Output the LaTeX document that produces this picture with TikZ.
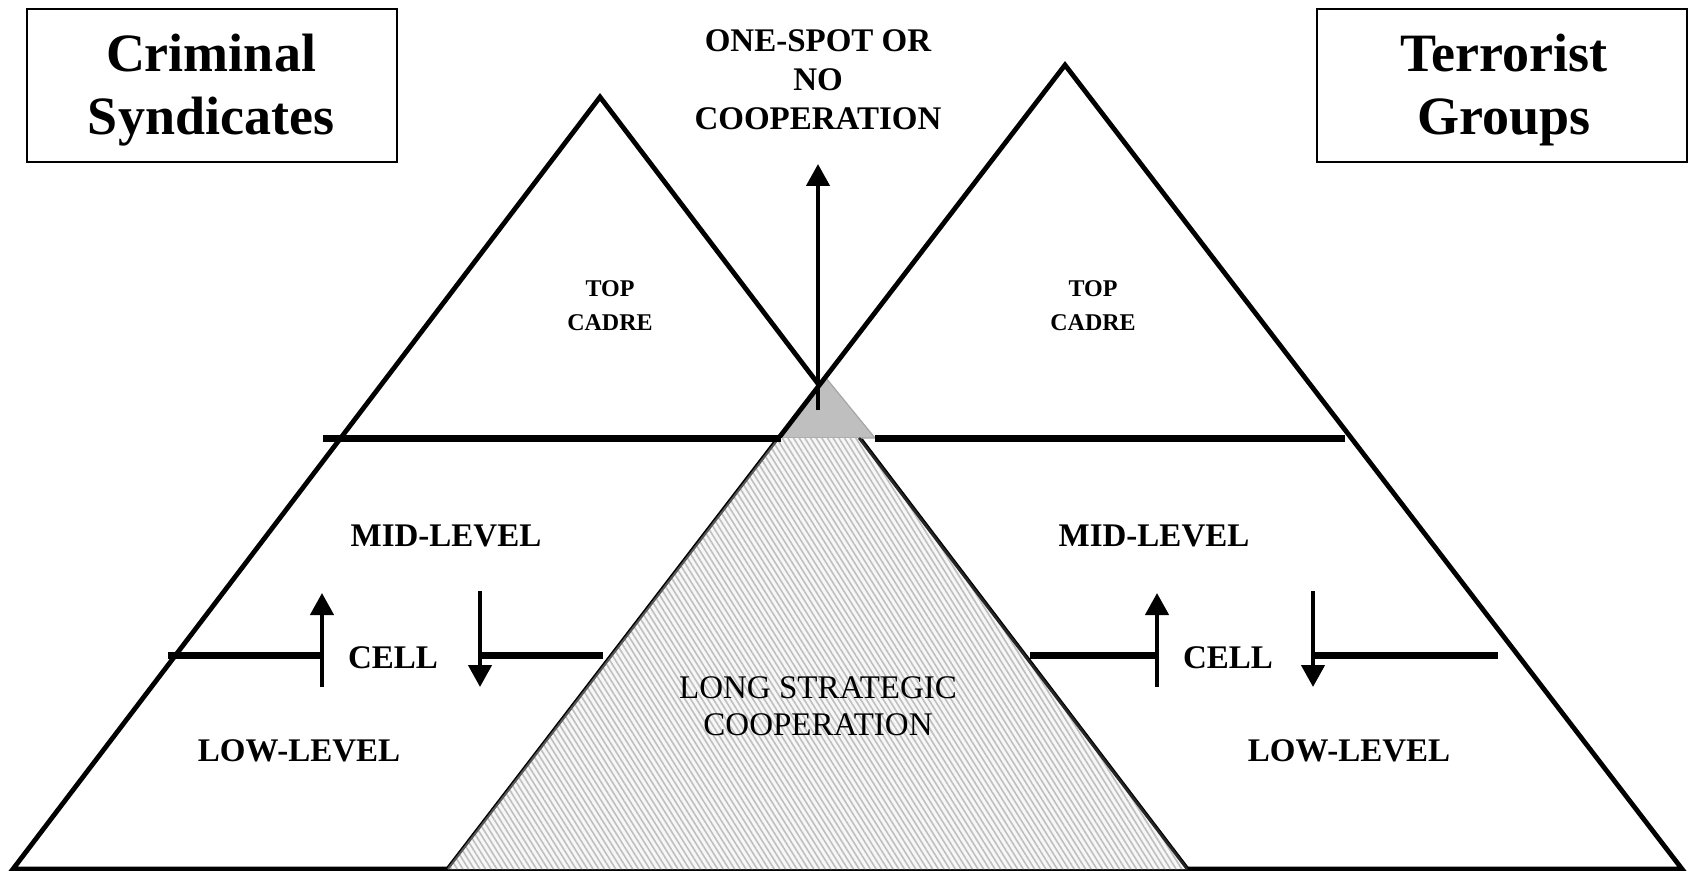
\documentclass[tikz,border=0pt]{standalone}
\usepackage{fontspec}
\setmainfont{Liberation Serif}
\usetikzlibrary{arrows.meta,patterns.meta}
\begin{document}
\begin{tikzpicture}[x=0.5pt,y=-0.5pt,
  edge/.style={line width=2.4pt, line join=miter},
  bar/.style={line width=3.5pt},
  arr/.style={line width=2.2pt, -{Triangle[width=11.5pt,length=11pt]}},
  titlebox/.style={draw, line width=1pt, minimum width=185pt, minimum height=76.5pt, inner sep=0pt},
  titletext/.style={align=center, font={\fontsize{27pt}{31.5pt}\selectfont\bfseries}, inner sep=0pt},
  lbl/.style={align=center, font={\fontsize{16.5pt}{19.5pt}\selectfont\bfseries}, inner sep=0pt},
  toplbl/.style={align=center, font={\fontsize{12pt}{17pt}\selectfont\bfseries}, inner sep=0pt},
  longlbl/.style={align=center, font={\fontsize{16.5pt}{18.5pt}\selectfont}, inner sep=0pt},
]
\fill[white] (0,0) rectangle (1689,871);
\useasboundingbox (0,0) rectangle (1689,871);

% pyramids
\coordinate (LA) at (600,97);
\coordinate (LBL) at (13,869);
\coordinate (LBR) at (1187,869);
\coordinate (RA) at (1065,65);
\coordinate (RBL) at (448,869);
\coordinate (RBR) at (1682,869);

\draw[edge] (LA) -- (LBL) -- (LBR) -- cycle;
\filldraw[fill=gray!50, draw=gray!70, line width=0.6pt] (826,378) -- (781,438) -- (875,438) -- cycle;
\draw[edge] (RA) -- (RBL) -- (RBR) -- cycle;

% overlap (long strategic cooperation)
\path[preaction={fill=gray!6}, pattern={Lines[angle=-58,distance=2.4pt,line width=0.8pt]}, pattern color=gray!50]
  (779,438) -- (859,438) -- (LBR) -- (RBL) -- cycle;
\draw[black!65, line width=1pt] (RBL) -- (779,438);
\draw[black!85, line width=1.3pt] (859,438) -- (LBR);

% top cadre boundary
\draw[bar] (323,438) -- (781,438);
\draw[bar] (875,438) -- (1345,438);

% central arrow
\coordinate (topTail) at (818,410);
\coordinate (topTip) at (818,164);
\draw[arr] (topTail) -- (topTip);

% left cell
\draw[bar] (168,655) -- (322,655);
\draw[arr] (322,687) -- (322,593);
\draw[bar] (480,655) -- (603,655);
\draw[arr] (480,591) -- (480,687);

% right cell
\draw[bar] (1030,655) -- (1157,655);
\draw[arr] (1157,687) -- (1157,593);
\draw[bar] (1313,655) -- (1498,655);
\draw[arr] (1313,591) -- (1313,687);

% titles
\node[titlebox] (crimbox) at (212,85.5) {};
\node[titletext, anchor=base] (crimtitle) at (211,135) {Criminal\\Syndicates};
\node[titlebox] (terrbox) at (1502,85.5) {};
\node[titletext, anchor=base] (terrtitle) at (1504,135) {Terrorist\\Groups};

% labels
\node[lbl, anchor=base] (onespot) at (818,130) {ONE-SPOT OR\\NO\\COOPERATION};
\node[toplbl, anchor=base] (ltop) at (610,330) {TOP\\CADRE};
\node[toplbl, anchor=base] (rtop) at (1093,330) {TOP\\CADRE};
\node[lbl, anchor=base] (lmid) at (446,546) {MID-LEVEL};
\node[lbl, anchor=base] (rmid) at (1154,546) {MID-LEVEL};
\node[lbl, anchor=base] (lcell) at (393,668) {CELL};
\node[lbl, anchor=base] (rcell) at (1228,668) {CELL};
\node[lbl, anchor=base] (llow) at (299,761) {LOW-LEVEL};
\node[lbl, anchor=base] (rlow) at (1349,761) {LOW-LEVEL};
\node[longlbl, anchor=base] (long) at (818,735) {LONG STRATEGIC\\COOPERATION};
\end{tikzpicture}
\end{document}
